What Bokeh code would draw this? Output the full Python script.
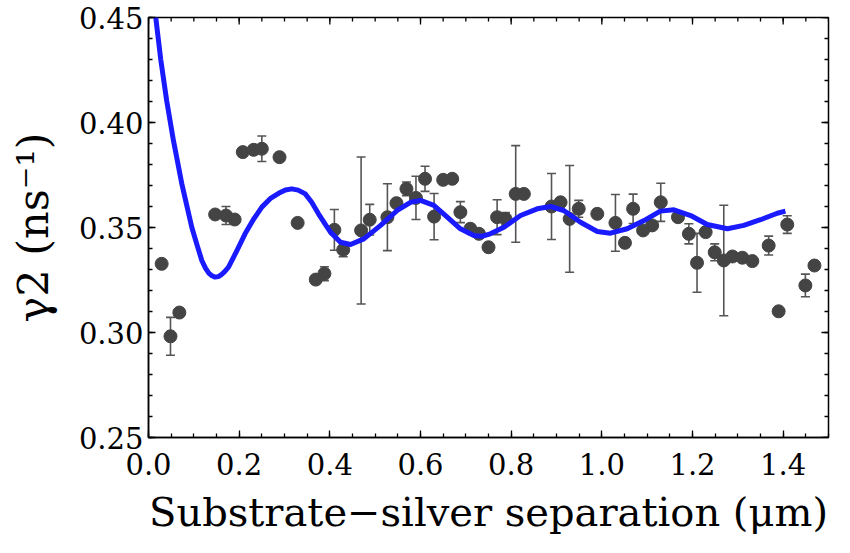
import math
from bokeh.plotting import figure
from bokeh.models import (ColumnDataSource, Range1d, FixedTicker,
                          PrintfTickFormatter, Whisker, TeeHead)
from bokeh.embed import file_html
from bokeh.resources import INLINE

# ---- data ----
sep_um = [0.029, 0.0485, 0.068, 0.147, 0.171, 0.190, 0.208, 0.232, 0.250, 0.289,
          0.329, 0.369, 0.388, 0.410, 0.4295, 0.469, 0.488, 0.527, 0.547, 0.569,
          0.590, 0.610, 0.630, 0.650, 0.670, 0.688, 0.710, 0.729, 0.750, 0.769,
          0.7875, 0.810, 0.828, 0.889, 0.909, 0.929, 0.949, 0.990, 1.030, 1.051,
          1.069, 1.091, 1.111, 1.130, 1.168, 1.192, 1.210, 1.229, 1.249, 1.269,
          1.288, 1.310, 1.332, 1.368, 1.390, 1.409, 1.449, 1.469]
gamma2 = [0.3327, 0.2982, 0.3095, 0.3562, 0.3557, 0.3538, 0.3859, 0.3870, 0.3875, 0.3835,
          0.3522, 0.3252, 0.3280, 0.3489, 0.3394, 0.3486, 0.3537, 0.3549, 0.3616, 0.3684,
          0.3641, 0.3732, 0.3552, 0.3727, 0.3732, 0.3573, 0.3494, 0.3470, 0.3406, 0.3549,
          0.3541, 0.3660, 0.3660, 0.3600, 0.3620, 0.3541, 0.3589, 0.3565, 0.3522, 0.3427,
          0.3589, 0.3486, 0.3510, 0.3620, 0.3549, 0.3470, 0.3332, 0.3478, 0.3382, 0.3343,
          0.3362, 0.3356, 0.3340, 0.3414, 0.3101, 0.3514, 0.3224, 0.3319]
gamma2_err = [0.0, 0.009, 0.0, 0.0, 0.0043, 0.002, 0.0, 0.0015, 0.0061, 0.0,
              0.0, 0.0, 0.0033, 0.0097, 0.0033, 0.035, 0.0073, 0.0159, 0.0, 0.0033,
              0.0103, 0.006, 0.011, 0.0015, 0.0015, 0.005, 0.002, 0.002, 0.002, 0.0083,
              0.003, 0.023, 0.0, 0.0157, 0.002, 0.0254, 0.004, 0.002, 0.0135, 0.002,
              0.007, 0.0, 0.0, 0.0091, 0.0015, 0.0048, 0.014, 0.002, 0.004, 0.0263,
              0.002, 0.0, 0.0, 0.0045, 0.0015, 0.0042, 0.0054, 0.0]

fit_x = [0.008, 0.016, 0.027, 0.040, 0.055, 0.0735, 0.0956, 0.108, 0.1176, 0.126,
         0.133, 0.140, 0.147, 0.154, 0.160, 0.168, 0.1765, 0.195, 0.213, 0.232,
         0.250, 0.270, 0.287, 0.302, 0.316, 0.330, 0.346, 0.360, 0.375, 0.390,
         0.4015, 0.4235, 0.4456, 0.475, 0.512, 0.5486, 0.578, 0.600, 0.6295, 0.659,
         0.688, 0.7176, 0.735, 0.754, 0.784, 0.8207, 0.8575, 0.887, 0.916, 0.953,
         0.990, 1.019, 1.056, 1.093, 1.129, 1.159, 1.196, 1.2325, 1.277, 1.313,
         1.350, 1.387, 1.405]
fit_y = [0.462, 0.450, 0.430, 0.4105, 0.3914, 0.3708, 0.3500, 0.3410, 0.3343, 0.3305,
         0.3283, 0.3270, 0.3264, 0.3266, 0.3274, 0.3290, 0.3311, 0.3390, 0.3470, 0.3540,
         0.3597, 0.3640, 0.3663, 0.3679, 0.3684, 0.3678, 0.3660, 0.3620, 0.3565, 0.3515,
         0.3478, 0.3430, 0.3419, 0.3446, 0.3510, 0.3581, 0.3620, 0.3629, 0.3605, 0.3549,
         0.3494, 0.3462, 0.3458, 0.3470, 0.3501, 0.3557, 0.3589, 0.3600, 0.3581, 0.3525,
         0.3481, 0.3473, 0.3494, 0.3533, 0.3578, 0.3584, 0.3557, 0.3514, 0.3494, 0.3510,
         0.3537, 0.3568, 0.3578]

x_major = [0.0, 0.2, 0.4, 0.6, 0.8, 1.0, 1.2, 1.4]
x_minor = [round(i * 0.05, 2) for i in range(31)]
y_major = [0.25, 0.30, 0.35, 0.40, 0.45]
y_minor = [round(0.25 + i * 0.01, 2) for i in range(21)]

FONT = "DejaVu Serif"
X_END = x_minor[-1]
Y_END = y_major[-1]

src = ColumnDataSource(data=dict(
    x=sep_um, y=gamma2,
    lo=[g - e for g, e in zip(gamma2, gamma2_err)],
    hi=[g + e for g, e in zip(gamma2, gamma2_err)],
))

p = figure(width=842, height=545, output_backend="svg", toolbar_location=None,
           x_range=Range1d(0, X_END), y_range=Range1d(y_major[0], Y_END),
           min_border_left=148, min_border_right=14, min_border_top=17,
           min_border_bottom=108)
p.grid.visible = False
p.background_fill_color = "white"
p.border_fill_color = "white"
p.outline_line_color = "black"
p.outline_line_width = 1.5

xt = FixedTicker(ticks=x_major, minor_ticks=x_minor)
yt = FixedTicker(ticks=y_major, minor_ticks=y_minor)

def style(ax):
    ax.axis_line_color = "black"
    ax.axis_line_width = 1.5
    ax.major_tick_in = 7
    ax.major_tick_out = 0
    ax.minor_tick_in = 4
    ax.minor_tick_out = 0
    ax.major_tick_line_color = "black"
    ax.minor_tick_line_color = "black"
    ax.major_tick_line_width = 1.3
    ax.minor_tick_line_width = 1.3
    ax.major_label_text_font = FONT
    ax.major_label_text_font_size = "29px"
    ax.major_label_text_color = "black"
    ax.axis_label_text_font = FONT
    ax.axis_label_text_font_style = "normal"
    ax.axis_label_text_color = "black"

xa = p.xaxis[0]
xa.ticker = xt
xa.formatter = PrintfTickFormatter(format="%.1f")
style(xa)
xa.axis_label = "Substrate\u2212silver separation (\u03bcm)"
xa.axis_label_text_font_size = "40px"
xa.major_label_standoff = 15
xa.axis_label_standoff = 11

ya = p.yaxis[0]
ya.ticker = yt
ya.formatter = PrintfTickFormatter(format="%.2f")
style(ya)
ya.axis_label = "\u03b32 (ns\u207b\u00b9)"
ya.axis_label_text_font_size = "43px"
ya.major_label_standoff = 5
ya.axis_label_standoff = 18

# mirrored inward ticks on the top and right frame edges
tick_kw = dict(line_color="black", line_width=1.3, length_units="screen")
p.ray(x=x_major, y=[Y_END] * len(x_major), length=7, angle=-math.pi / 2, **tick_kw)
p.ray(x=x_minor, y=[Y_END] * len(x_minor), length=4, angle=-math.pi / 2, **tick_kw)
p.ray(x=[X_END] * len(y_major), y=y_major, length=7, angle=math.pi, **tick_kw)
p.ray(x=[X_END] * len(y_minor), y=y_minor, length=4, angle=math.pi, **tick_kw)

wh = Whisker(source=src, base="x", lower="lo", upper="hi", dimension="height",
             line_color="#555555", line_width=1.6,
             upper_head=TeeHead(size=9, line_color="#555555", line_width=1.6),
             lower_head=TeeHead(size=9, line_color="#555555", line_width=1.6))
p.add_layout(wh)

p.scatter("x", "y", source=src, size=13, fill_color="#444444", line_color="#444444")
p.line(fit_x, fit_y, line_color="#1a1aff", line_width=5, line_join="round")

open("out.html", "w").write(file_html(p, INLINE))
